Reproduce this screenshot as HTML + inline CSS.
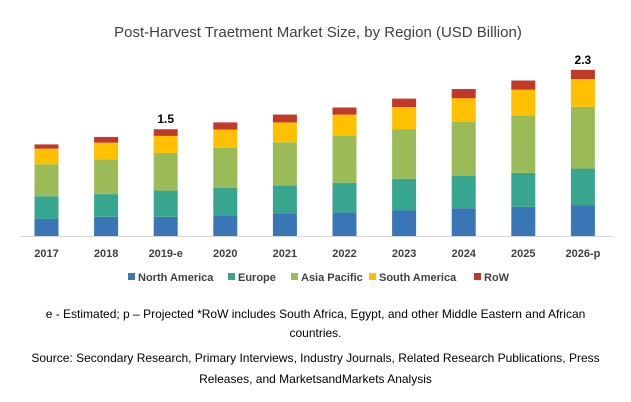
<!DOCTYPE html>
<html><head><meta charset="utf-8"><style>
body{margin:0;width:631px;height:402px;background:#fff;font-family:"Liberation Sans",sans-serif;overflow:hidden}
.foot{position:absolute;left:0;width:631px;text-align:center;font-size:12px;color:#000}
</style></head><body>
<svg width="631" height="295" style="position:absolute;left:0;top:0">
<text x="318" y="37" text-anchor="middle" font-size="15" fill="#404040">Post-Harvest Traetment Market Size, by Region (USD Billion)</text>
<line x1="20" y1="236.5" x2="613" y2="236.5" stroke="#d9d9d9"/>
<g id="bars"></g><g id="labels"></g><g id="legend"></g>
</svg>
<div class="foot" style="top:305px;line-height:19px">e - Estimated; p – Projected *RoW includes South Africa, Egypt, and other Middle Eastern and African<br>countries.</div>
<div class="foot" style="top:348px;line-height:21px">Source: Secondary Research, Primary Interviews, Industry Journals, Related Research Publications, Press<br>Releases, and MarketsandMarkets Analysis</div>
<script>
const categories=["2017","2018","2019-e","2020","2021","2022","2023","2024","2025","2026-p"];
const northAmerica=[0.24,0.27,0.27,0.29,0.31,0.33,0.36,0.39,0.41,0.43];
const europe=[0.32,0.32,0.37,0.39,0.40,0.42,0.445,0.46,0.48,0.52];
const asiaPacific=[0.45,0.49,0.53,0.56,0.61,0.66,0.70,0.76,0.81,0.87];
const southAmerica=[0.22,0.235,0.24,0.26,0.28,0.30,0.31,0.33,0.36,0.39];
const row=[0.06,0.08,0.094,0.10,0.11,0.10,0.12,0.13,0.13,0.13];
const totalLabels={"2":"1.5","9":"2.3"};
const seriesNames=["North America","Europe","Asia Pacific","South America","RoW"];
const colors=["#3a76b6","#38a58f","#9bbb59","#ffc000","#c0392b"];
const series=[northAmerica,europe,asiaPacific,southAmerica,row];
const NS="http://www.w3.org/2000/svg";
const base=236, scale=71, x0=46.5, step=59.6, bw=24;
const yS=v=>base-v*scale, xS=i=>x0+i*step;
const gb=document.getElementById('bars'), gl=document.getElementById('labels'), gg=document.getElementById('legend');
categories.forEach((c,i)=>{
  let cum=0;
  series.forEach((s,k)=>{
    const r=document.createElementNS(NS,'rect');
    r.setAttribute('x',xS(i)-bw/2);r.setAttribute('width',bw);
    r.setAttribute('y',yS(cum+s[i]));r.setAttribute('height',s[i]*scale);
    r.setAttribute('fill',colors[k]);
    
    
    gb.appendChild(r);cum+=s[i];
  });
  const t=document.createElementNS(NS,'text');
  t.setAttribute('x',xS(i));t.setAttribute('y',257);t.setAttribute('text-anchor','middle');
  t.setAttribute('font-size','11');t.setAttribute('font-weight','bold');t.setAttribute('fill','#404040');
  t.textContent=c;
  
  
  gl.appendChild(t);
  if(totalLabels[i]){
    const v=document.createElementNS(NS,'text');
    v.setAttribute('x',xS(i));v.setAttribute('y',yS(cum)-6);v.setAttribute('text-anchor','middle');
    v.setAttribute('font-size','12');v.setAttribute('font-weight','bold');v.setAttribute('fill','#000');
    v.textContent=totalLabels[i];
    
    
    gl.appendChild(v);
  }
});
const lx=[128,228,291,369,474];
seriesNames.forEach((n,k)=>{
  const r=document.createElementNS(NS,'rect');
  r.setAttribute('x',lx[k]);r.setAttribute('y',273);r.setAttribute('width',7);r.setAttribute('height',7);
  r.setAttribute('fill',colors[k]);
  
  
  gg.appendChild(r);
  const t=document.createElementNS(NS,'text');
  t.setAttribute('x',lx[k]+10);t.setAttribute('y',281);t.setAttribute('font-size','11');
  t.setAttribute('font-weight','bold');t.setAttribute('fill','#404040');
  t.textContent=n;
  
  
  gg.appendChild(t);
});
</script>
</body></html>
